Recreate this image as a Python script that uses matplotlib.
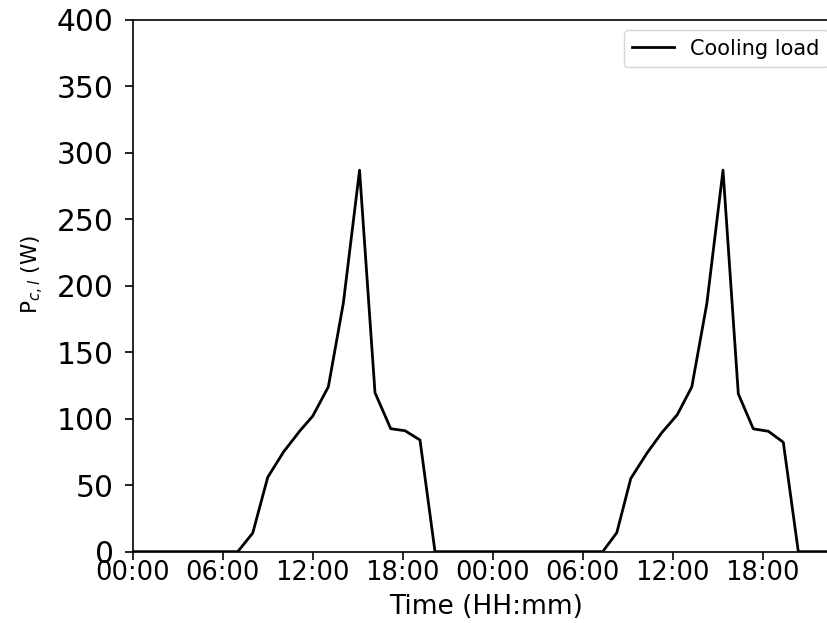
import numpy as np
import matplotlib
matplotlib.use("Agg")
import matplotlib.pyplot as plt
from matplotlib.ticker import FuncFormatter, MultipleLocator

# time in hours from start, cooling load in W
hours = [0.0, 7.0, 8.0, 9.0, 10.05, 11.15, 12.0, 13.04, 14.04, 15.12,
         16.15, 17.2, 18.15, 19.15, 20.15,
         31.33, 32.27, 33.2, 34.27, 35.27, 36.3, 37.27, 38.27, 39.35,
         40.37, 41.37, 42.37, 43.37, 44.37, 47.05]
cooling_load = [0, 0, 14, 56, 75, 91, 102, 124, 187, 287,
                119.6, 92.5, 91, 84, 0,
                0, 14.3, 55, 74, 89.5, 103, 124, 186.5, 287,
                118.7, 92.4, 90.6, 82.3, 0, 0]


def hhmm(x, pos):
    h = int(round(x)) % 24
    return f"{h:02d}:00"


plt.rcParams['axes.linewidth'] = 1.2

fig = plt.figure(figsize=(8.28, 6.23), dpi=100)
ax = fig.add_axes([0.1603, 0.1145, 1.0127 - 0.1603, 0.9679 - 0.1145])

ax.plot(hours, cooling_load, color='black', lw=2.0, label='Cooling load')

ax.set_xlim(0, 47.05)
ax.set_ylim(0, 400)
ax.xaxis.set_major_locator(MultipleLocator(6))
ax.xaxis.set_major_formatter(FuncFormatter(hhmm))
ax.yaxis.set_major_locator(MultipleLocator(50))

ax.tick_params(axis='y', labelsize=21.4, length=5.8, width=1.2, pad=8)
ax.tick_params(axis='x', labelsize=18.5, length=5.8, width=1.2, pad=0.5)

ax.set_xlabel('Time (HH:mm)', fontsize=19, labelpad=5.5)
ax.set_ylabel('P$_{c,l}$ (W)', fontsize=15.5)
ax.yaxis.set_label_coords(-0.123, 0.522)

ax.legend(loc='upper right', fontsize=15)

fig.savefig('out.png', dpi=100)
